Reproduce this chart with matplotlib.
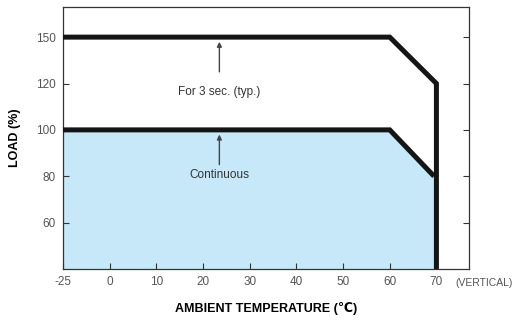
import numpy as np
import matplotlib.pyplot as plt

# derating curve data (temperature in C, load in %)
# -25 and 150 sit one grid step from their neighbours, so they are drawn at these positions
temp_ticks = [-25, 0, 10, 20, 30, 40, 50, 60, 70]
temp_pos = [-10, 0, 10, 20, 30, 40, 50, 60, 70]
load_ticks = [60, 80, 100, 120, 150]
load_pos = [60, 80, 100, 120, 140]

peak_temp = [-25, 60, 70]
peak_load = [150, 150, 120]
cont_temp = [-25, 60, 69.5]
cont_load = [100, 100, 80]

def tpos(t):
    return np.interp(t, temp_ticks, temp_pos)

def lpos(v):
    return np.interp(v, load_ticks, load_pos)

plt.rcParams['font.family'] = ['Liberation Sans', 'DejaVu Sans']

fig = plt.figure(figsize=(5.14, 3.22), dpi=100)
ax = fig.add_axes([0.1226, 0.1646, 0.790, 0.8137])

ymin, ymax = 40, 153
ax.set_xlim(-10, 77)
ax.set_ylim(ymin, ymax)

# continuous area
cx = tpos(cont_temp)
cy = lpos(cont_load)
ax.fill_between(cx, ymin, cy, color='#c6e8f8', lw=0, zorder=1)
ax.plot(cx, cy, color='#151515', lw=3.6, solid_joinstyle='miter', solid_capstyle='butt', zorder=3)

# peak line + vertical drop
px = list(tpos(peak_temp)) + [tpos(70)]
py = list(lpos(peak_load)) + [ymin]
ax.plot(px, py, color='#151515', lw=3.6, solid_joinstyle='miter', solid_capstyle='butt', zorder=4)

# annotations
arrow = dict(arrowstyle='-|>', color='#444444', lw=1, mutation_scale=7, shrinkA=0, shrinkB=0)
ax.annotate('', xy=(23.5, lpos(150) - 2), xytext=(23.5, 125), arrowprops=arrow, zorder=5)
ax.text(23.5, 116.3, 'For 3 sec. (typ.)', ha='center', va='center', fontsize=8.5, color='#333333')
ax.annotate('', xy=(23.5, lpos(100) - 2), xytext=(23.5, 85), arrowprops=arrow, zorder=5)
ax.text(23.5, 80.5, 'Continuous', ha='center', va='center', fontsize=8.5, color='#333333')

ax.set_xticks(temp_pos)
ax.set_xticklabels([str(t) for t in temp_ticks])
ax.set_yticks(load_pos)
ax.set_yticklabels([str(v) for v in load_ticks])
ax.tick_params(axis='both', direction='in', length=4, width=0.8, color='#333333',
               labelsize=8.5, labelcolor='#555555', right=True, pad=5)
for s in ax.spines.values():
    s.set_color('#333333')
    s.set_linewidth(0.9)

fig.text(0.998, 0.121, '(VERTICAL)', ha='right', va='center', fontsize=7.5, color='#555555')

ax.set_xlabel('AMBIENT TEMPERATURE (\u2103)', fontsize=9, fontweight='bold', labelpad=10)
ax.set_ylabel('LOAD (%)', fontsize=9, fontweight='bold', labelpad=11)

fig.savefig('out.png', dpi=100)
